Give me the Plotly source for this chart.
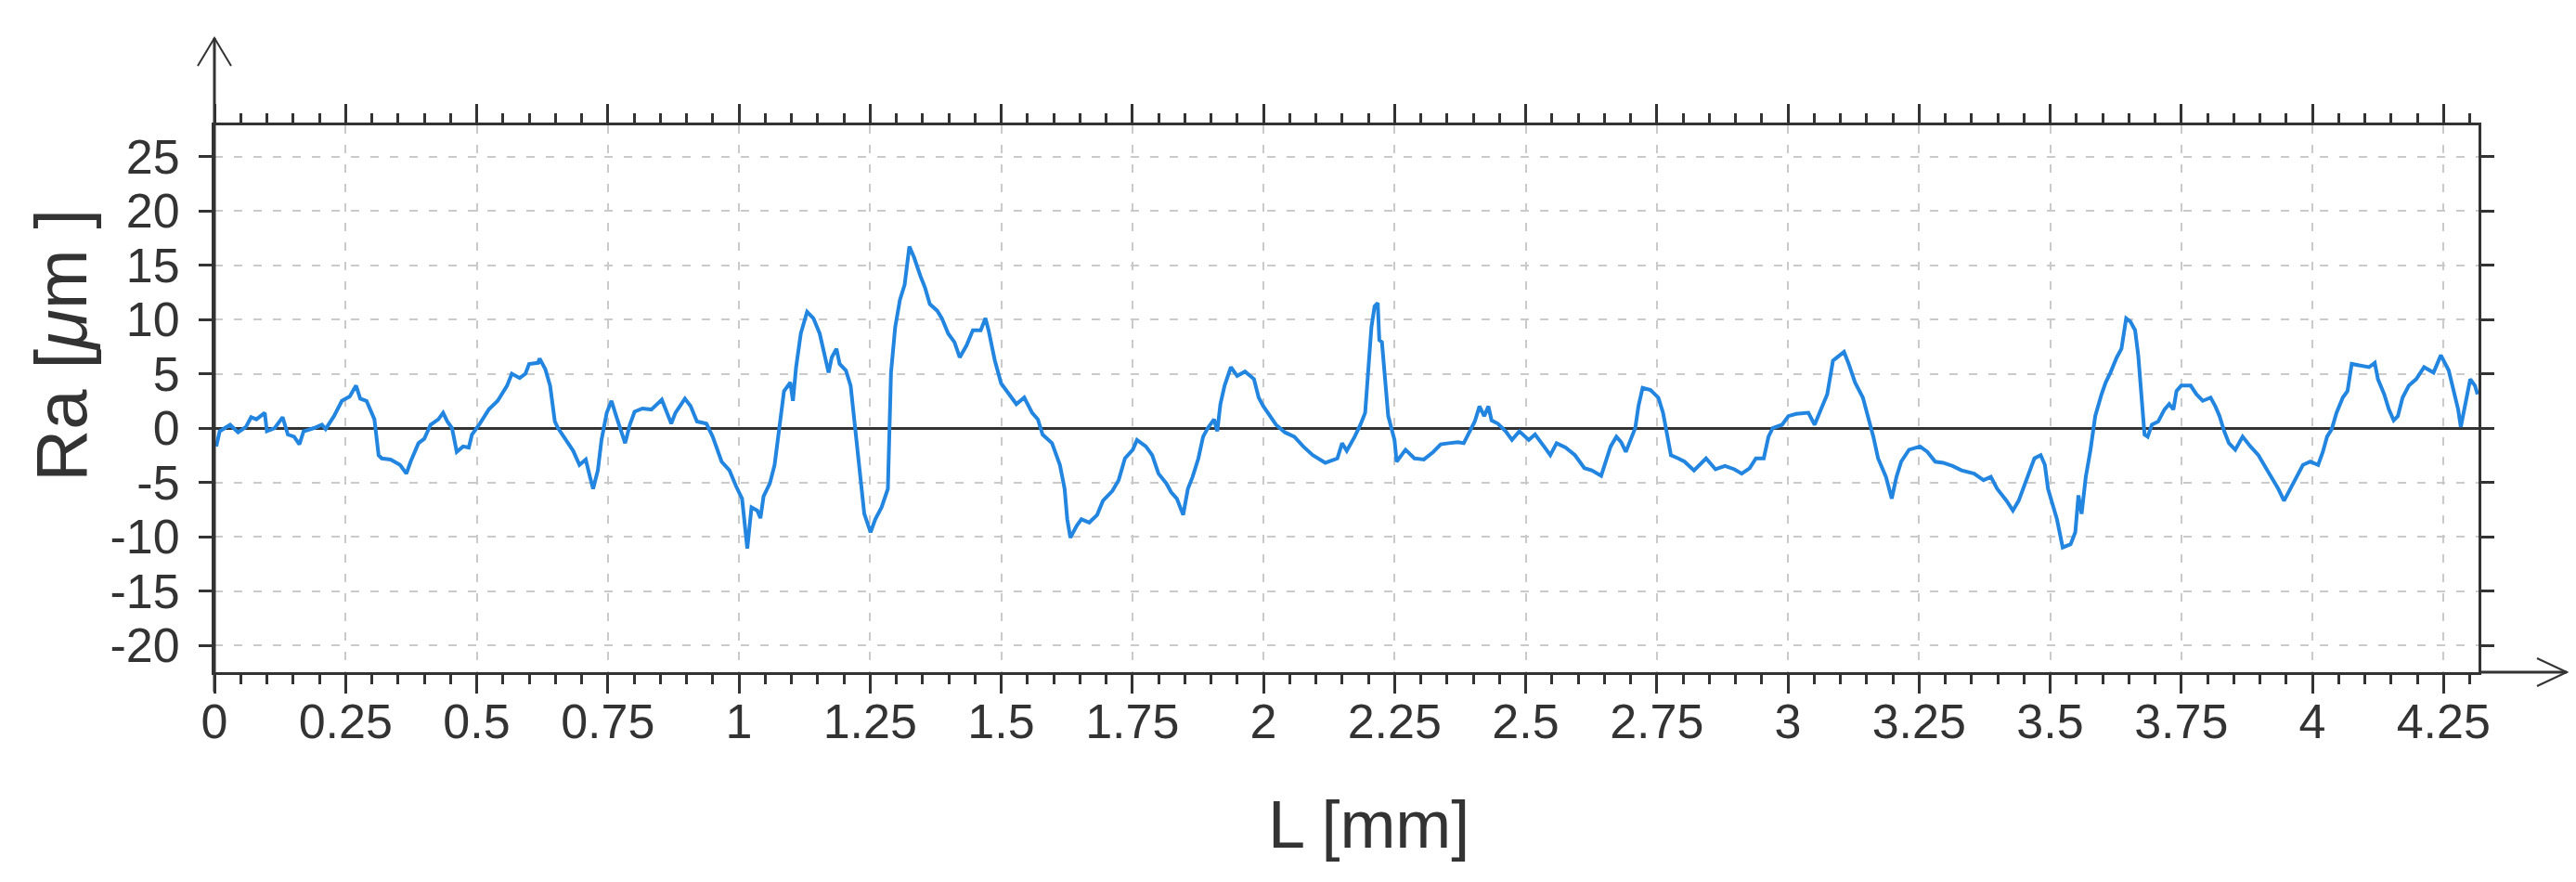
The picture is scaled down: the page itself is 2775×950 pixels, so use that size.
import plotly.graph_objects as go

x_mm = [
    0.0035, 0.01, 0.02, 0.03, 0.045, 0.06, 0.07, 0.08, 0.096, 0.10, 0.115, 0.13, 0.14, 0.152, 0.162,
    0.17, 0.19, 0.205, 0.212, 0.228, 0.243, 0.258, 0.27, 0.278, 0.29, 0.30, 0.305, 0.313, 0.319,
    0.336, 0.354, 0.366, 0.374, 0.389, 0.40, 0.412, 0.427, 0.436, 0.444, 0.453, 0.462, 0.474,
    0.485, 0.491, 0.506, 0.523, 0.54, 0.558, 0.567, 0.582, 0.593, 0.60, 0.617, 0.62, 0.631, 0.64,
    0.649, 0.655, 0.67, 0.684, 0.696, 0.708, 0.716, 0.722, 0.731, 0.738, 0.748, 0.757, 0.766,
    0.775, 0.783, 0.792, 0.801, 0.816, 0.833, 0.853, 0.862, 0.871,
    0.879, 0.897, 0.908, 0.92, 0.938, 0.95, 0.967, 0.982, 0.994, 1.006, 1.016, 1.024, 1.035,
    1.041, 1.047, 1.059, 1.068, 1.077, 1.086, 1.098, 1.103, 1.109, 1.118, 1.13, 1.142, 1.154,
    1.165, 1.171, 1.177, 1.186, 1.192, 1.204, 1.213, 1.219, 1.225, 1.232, 1.239, 1.251, 1.26,
    1.272, 1.284, 1.29, 1.298, 1.307, 1.316, 1.325, 1.334, 1.346, 1.355, 1.364, 1.378, 1.387,
    1.399, 1.411, 1.421, 1.434, 1.446, 1.461, 1.47, 1.476, 1.488, 1.50, 1.514, 1.529, 1.544,
    1.559, 1.57, 1.579, 1.597, 1.612, 1.621, 1.626, 1.632, 1.644, 1.653, 1.668, 1.683, 1.694,
    1.712, 1.724, 1.736, 1.751, 1.759,
    1.776, 1.788, 1.80, 1.815, 1.824, 1.835, 1.847, 1.856, 1.865, 1.876, 1.885, 1.894, 1.906,
    1.912, 1.918, 1.926, 1.938, 1.95, 1.965, 1.982, 1.991, 2.0, 2.012, 2.024, 2.041, 2.059,
    2.076, 2.094, 2.118, 2.141, 2.15, 2.159, 2.174, 2.185, 2.194, 2.20, 2.206, 2.212, 2.218,
    2.221, 2.226, 2.232, 2.238, 2.244, 2.25, 2.254, 2.271, 2.288, 2.306, 2.324, 2.338, 2.353,
    2.371, 2.382, 2.394, 2.403, 2.412, 2.421, 2.429, 2.435, 2.447, 2.462, 2.474, 2.488, 2.506,
    2.518, 2.535, 2.547, 2.559, 2.576, 2.594, 2.612, 2.626, 2.644,
    2.662, 2.673, 2.682, 2.691, 2.70, 2.709, 2.715, 2.723, 2.738, 2.753, 2.762, 2.768, 2.777,
    2.791, 2.803, 2.821, 2.836, 2.844, 2.862, 2.88, 2.898, 2.912, 2.927, 2.939, 2.954, 2.963,
    2.971, 2.989, 3.001, 3.016, 3.039, 3.051, 3.063, 3.075, 3.086, 3.098, 3.107, 3.116, 3.128,
    3.143, 3.154, 3.163, 3.172, 3.187, 3.198, 3.207, 3.216, 3.231, 3.252, 3.266, 3.281, 3.296,
    3.314, 3.331, 3.355, 3.373, 3.387, 3.399, 3.417, 3.429, 3.44, 3.455, 3.47, 3.482, 3.49,
    3.496,
    3.513, 3.524, 3.539, 3.548, 3.554, 3.56, 3.568, 3.577, 3.586, 3.598, 3.606, 3.615, 3.627,
    3.636, 3.645, 3.653, 3.662, 3.668, 3.674, 3.68, 3.686, 3.694, 3.706, 3.718, 3.727, 3.735,
    3.741, 3.75, 3.768, 3.779, 3.791, 3.806, 3.815, 3.823, 3.832, 3.841, 3.853, 3.867, 3.882,
    3.897, 3.908, 3.92, 3.935, 3.946, 3.958, 3.97, 3.982, 3.996, 4.011, 4.02, 4.028, 4.037,
    4.046, 4.058, 4.067, 4.075, 4.09, 4.108, 4.119, 4.125, 4.137, 4.146, 4.155, 4.163, 4.172,
    4.184, 4.198, 4.213, 4.231, 4.245, 4.26, 4.269, 4.278, 4.283, 4.292, 4.301, 4.31, 4.315,
]
ra_um = [
    -1.7, -0.3, 0.0, 0.3, -0.4, 0.1, 1.0, 0.8, 1.4, -0.3, 0.0, 1.0, -0.6, -0.8, -1.5,
    -0.3, 0.0, 0.3, -0.1, 1.1, 2.5, 2.9, 3.9, 2.7, 2.5, 1.3, 0.8, -2.5, -2.8,
    -2.9, -3.4, -4.2, -3.1, -1.4, -1.0, 0.3, 0.8, 1.4, 0.6, 0.0, -2.2, -1.7,
    -1.8, -0.6, 0.4, 1.7, 2.5, 3.9, 5.0, 4.6, 5.0, 5.9, 6.0, 6.4, 5.4, 3.9,
    0.6, 0.0, -1.1, -2.1, -3.4, -2.9, -4.5, -5.6, -3.9, -1.1, 1.4, 2.5, 1.1,
    -0.3, -1.4, 0.3, 1.5, 1.8, 1.7, 2.6, 1.4, 0.4,
    1.4, 2.7, 2.0, 0.6, 0.4, -0.8, -3.1, -3.9, -5.3, -6.5, -11.1, -7.3, -7.6,
    -8.3, -6.3, -5.1, -3.4, 0.0, 3.4, 4.2, 2.5, 5.6, 8.7, 10.7, 10.1, 8.7,
    6.5, 5.1, 6.5, 7.3, 5.9, 5.3, 3.9, 1.1, -2.0, -5.1, -7.9, -9.6, -8.4,
    -7.3, -5.6, 5.1, 9.3, 11.8, 13.2, 16.7, 15.7, 14.0, 12.9, 11.4, 10.8, 10.1,
    8.7, 7.9, 6.5, 7.6, 9.0, 9.0, 10.1, 9.0, 6.2, 4.1, 3.2, 2.2, 2.8,
    1.4, 0.8, -0.6, -1.4, -3.4, -5.6, -8.4, -10.1, -9.0, -8.4, -8.7, -8.0, -6.7,
    -5.8, -4.8, -2.8, -2.0, -1.1,
    -1.7, -2.5, -4.2, -5.1, -5.9, -6.5, -8.0, -5.6, -4.5, -2.8, -0.8, 0.0, 0.8,
    -0.3, 2.2, 3.9, 5.6, 4.8, 5.2, 4.5, 2.8, 2.0, 1.1, 0.3, -0.4, -0.8,
    -1.7, -2.5, -3.2, -2.8, -1.4, -2.1, -0.8, 0.3, 1.4, 5.1, 9.3, 11.2, 11.5,
    8.1, 7.9, 4.5, 1.1, 0.0, -1.1, -3.1, -2.0, -2.8, -2.9, -2.2, -1.5, -1.4,
    -1.3, -1.4, -0.3, 0.6, 2.0, 1.1, 2.0, 0.7, 0.4, -0.3, -1.1, -0.3, -1.1,
    -0.6, -1.7, -2.5, -1.4, -1.8, -2.5, -3.7, -3.9, -4.4,
    -1.7, -0.8, -1.3, -2.2, -1.1, 0.0, 2.0, 3.7, 3.5, 2.8, 1.4, -0.3, -2.5,
    -2.8, -3.1, -3.9, -3.1, -2.8, -3.8, -3.5, -3.8, -4.2, -3.7, -2.8, -2.8, -0.8,
    0.0, 0.3, 1.1, 1.3, 1.4, 0.3, 1.7, 3.1, 6.2, 6.6, 7.0, 5.9, 4.2,
    2.8, 0.8, -0.8, -2.8, -4.5, -6.5, -4.5, -3.1, -2.0, -1.7, -2.2, -3.1, -3.2,
    -3.5, -3.9, -4.2, -4.8, -4.5, -5.6, -6.7, -7.6, -6.7, -4.8, -2.8, -2.5, -3.4,
    -5.6,
    -8.4, -11.0, -10.7, -9.6, -6.2, -7.9, -4.5, -2.0, 1.1, 3.1, 4.2, 5.1, 6.5,
    7.3, 10.1, 9.8, 9.0, 6.7, 3.4, -0.6, -0.8, 0.3, 0.6, 1.7, 2.2, 1.7,
    3.4, 3.9, 3.9, 3.1, 2.5, 2.8, 2.0, 1.1, -0.3, -1.4, -2.0, -0.8, -1.7,
    -2.5, -3.4, -4.4, -5.6, -6.7, -5.6, -4.5, -3.4, -3.1, -3.4, -2.2, -0.8, -0.1,
    1.4, 2.8, 3.4, 5.9, 5.8, 5.6, 6.0, 4.5, 3.1, 1.7, 0.7, 1.1, 2.8,
    3.9, 4.5, 5.6, 5.1, 6.7, 5.3, 3.4, 1.7, 0.1, 2.2, 4.5, 3.9, 3.1,
]

x_ticks = [0, 0.25, 0.5, 0.75, 1, 1.25, 1.5, 1.75, 2, 2.25, 2.5, 2.75, 3, 3.25, 3.5, 3.75, 4, 4.25]
x_labels = ["0", "0.25", "0.5", "0.75", "1", "1.25", "1.5", "1.75", "2", "2.25",
            "2.5", "2.75", "3", "3.25", "3.5", "3.75", "4", "4.25"]
y_ticks = [-20, -15, -10, -5, 0, 5, 10, 15, 20, 25]
y_labels = ["-20", "-15", "-10", "-5", "0", "5", "10", "15", "20", "25"]
y_long_ticks = [-20, -10, 0, 10, 20]

# ---------------- geometry (pixels of the 2775 x 950 page) ----------------
W_PX, H_PX = 2775, 950
L, R, T, B = 223, 2662, 127, 716
INK = "#333333"
FONT = "Liberation Sans, Arial, Helvetica, sans-serif"


def px(xp):
    return (xp - L) / (R - L)


def py(yp):
    return (B - yp) / (B - T)


fig = go.Figure()
fig.add_trace(go.Scatter(
    x=x_mm, y=ra_um, mode="lines",
    line=dict(color="#2285e0", width=4),
    showlegend=False,
))

grid = dict(showgrid=True, gridcolor="#cacaca", gridwidth=2, griddash="9px,12px")

fig.update_layout(
    width=W_PX, height=H_PX,
    margin=dict(l=L, r=W_PX - R, t=T, b=H_PX - B, pad=0),
    paper_bgcolor="white", plot_bgcolor="white",
    font=dict(family=FONT, color=INK),
    xaxis=dict(
        range=[0, (R - L) / 565], tickvals=x_ticks, ticktext=x_labels,
        ticks="outside", ticklen=20, tickwidth=3, tickcolor=INK,
        minor=dict(dtick=0.05, tick0=0, ticks="outside", ticklen=10, tickwidth=3, tickcolor=INK),
        showline=True, linecolor=INK, linewidth=3, mirror="ticks",
        zeroline=False, tickfont=dict(size=52, color=INK), ticklabelstandoff=-14, **grid,
    ),
    yaxis=dict(
        range=[(453 - B) / 11.7, (453 - T) / 11.7], tickvals=y_ticks, ticktext=y_labels,
        ticks="outside", ticklen=14, tickwidth=3, tickcolor=INK,
        showline=True, linecolor=INK, linewidth=3, mirror="ticks",
        zeroline=True, zerolinecolor=INK, zerolinewidth=3,
        tickfont=dict(size=52, color=INK), ticklabelstandoff=10, **grid,
    ),
    yaxis2=dict(
        overlaying="y", anchor="x", side="left",
        range=[(453 - B) / 11.7, (453 - T) / 11.7], tickvals=y_long_ticks,
        ticks="outside", ticklen=26, tickwidth=3, tickcolor=INK,
        showticklabels=False, showgrid=False, zeroline=False, showline=False,
    ),
)

# axis titles
fig.add_annotation(text="L [mm]", xref="paper", yref="paper", x=px(1466), y=py(880),
                   showarrow=False, font=dict(size=72, color=INK), xanchor="center", yanchor="middle")
fig.add_annotation(text="Ra [<i>μ</i>m ]", xref="paper", yref="paper", x=px(58), y=py(364),
                   textangle=-90, showarrow=False, font=dict(size=78, color=INK),
                   xanchor="center", yanchor="middle")

# axis extensions with open arrow heads
axis_line = dict(color=INK, width=3)
head_line = dict(color=INK, width=2)
fig.add_shape(type="line", xref="paper", yref="paper", x0=px(L), y0=py(B + 21), x1=px(L), y1=py(33), line=axis_line)
fig.add_shape(type="path", xref="paper", yref="paper",
              path=f"M {px(L - 18)},{py(63)} L {px(L)},{py(33)} L {px(L + 18)},{py(63)}", line=head_line)
fig.add_shape(type="line", xref="paper", yref="paper", x0=px(R), y0=py(B), x1=px(2757), y1=py(B), line=axis_line)
fig.add_shape(type="path", xref="paper", yref="paper",
              path=f"M {px(2725)},{py(B - 15)} L {px(2757)},{py(B)} L {px(2725)},{py(B + 15)}", line=head_line)

fig.write_html("out.html")
